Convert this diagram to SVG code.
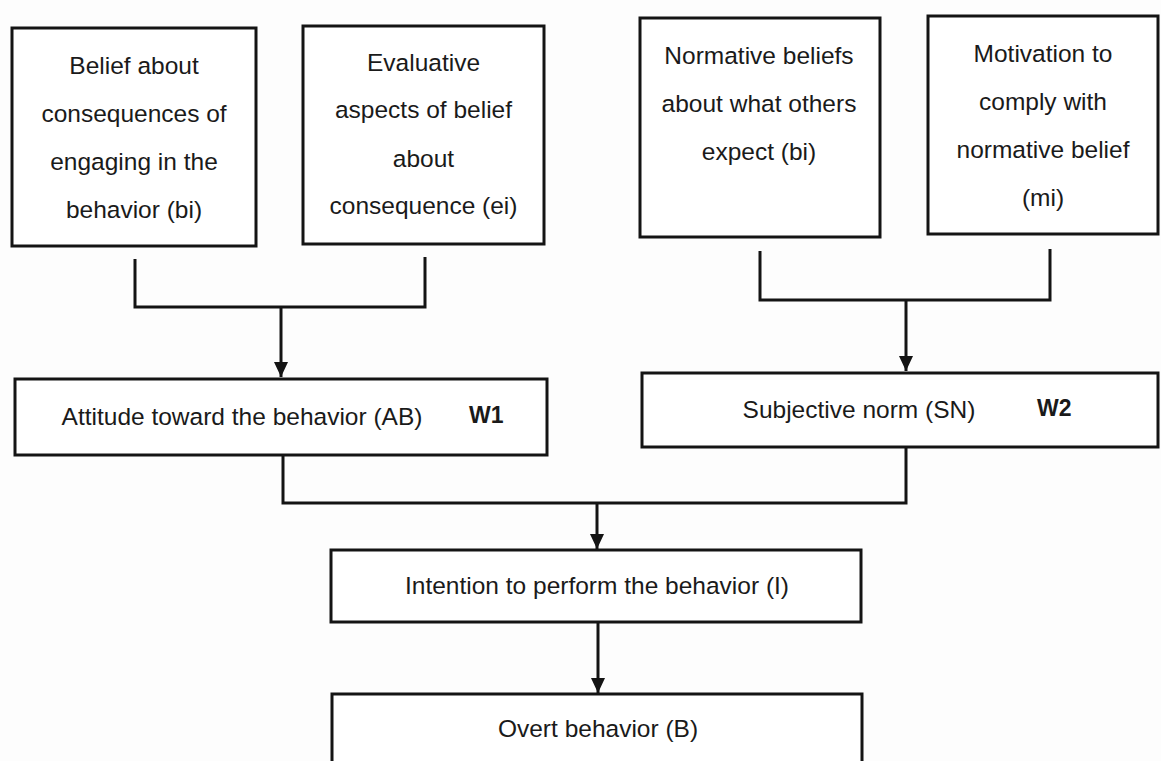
<svg xmlns="http://www.w3.org/2000/svg" width="1161" height="761" viewBox="0 0 1161 761">
  <style>
    .box { fill: #ffffff; stroke: #141414; stroke-width: 3; }
    .t { font-family: "Liberation Sans", Arial, sans-serif; font-size: 24.5px; fill: #1a1a1a; text-anchor: middle; }
    .b { font-family: "Liberation Sans", Arial, sans-serif; font-size: 23px; font-weight: bold; fill: #1a1a1a; }
    .c { fill: none; stroke: #141414; stroke-width: 3; stroke-linejoin: miter; }
  </style>
  <defs>
    <marker id="arrow" markerUnits="userSpaceOnUse" markerWidth="16" markerHeight="16" refX="15" refY="7" orient="auto">
      <path d="M0,0 L15,7 L0,14 Z" fill="#141414"/>
    </marker>
  </defs>
  <rect width="1161" height="761" fill="#fdfdfd"/>

  <g id="connectors">
    <path class="c" d="M135,259 V307 H425 V257"/>
    <path class="c" d="M281,307 V377" marker-end="url(#arrow)"/>
    <path class="c" d="M760,251 V300 H1050 V249"/>
    <path class="c" d="M906,300 V371" marker-end="url(#arrow)"/>
    <path class="c" d="M283,456 V503 H906 V447"/>
    <path class="c" d="M597,503 V549" marker-end="url(#arrow)"/>
    <path class="c" d="M598,622 V693" marker-end="url(#arrow)"/>
  </g>

  <g id="belief-consequences">
    <rect class="box" x="12" y="28" width="244" height="218"/>
    <text class="t" x="134" y="74">Belief about</text>
    <text class="t" x="134" y="122">consequences of</text>
    <text class="t" x="134" y="170">engaging in the</text>
    <text class="t" x="134" y="218">behavior (bi)</text>
  </g>

  <g id="evaluative-aspects">
    <rect class="box" x="303" y="26" width="241" height="218"/>
    <text class="t" x="423.5" y="71">Evaluative</text>
    <text class="t" x="423.5" y="118">aspects of belief</text>
    <text class="t" x="423.5" y="167">about</text>
    <text class="t" x="423.5" y="214">consequence (ei)</text>
  </g>

  <g id="normative-beliefs">
    <rect class="box" x="640" y="18" width="240" height="219"/>
    <text class="t" x="759" y="64">Normative beliefs</text>
    <text class="t" x="759" y="112">about what others</text>
    <text class="t" x="759" y="160">expect (bi)</text>
  </g>

  <g id="motivation-comply">
    <rect class="box" x="928" y="16" width="230" height="218"/>
    <text class="t" x="1043" y="62">Motivation to</text>
    <text class="t" x="1043" y="110">comply with</text>
    <text class="t" x="1043" y="158">normative belief</text>
    <text class="t" x="1043" y="206">(mi)</text>
  </g>

  <g id="attitude">
    <rect class="box" x="15" y="379" width="532" height="76"/>
    <text class="t" x="242" y="425">Attitude toward the behavior (AB)</text>
    <text class="b" x="469" y="423">W1</text>
  </g>

  <g id="subjective-norm">
    <rect class="box" x="642" y="373" width="516" height="74"/>
    <text class="t" x="859" y="418">Subjective norm (SN)</text>
    <text class="b" x="1037" y="416">W2</text>
  </g>

  <g id="intention">
    <rect class="box" x="331" y="550" width="530" height="72"/>
    <text class="t" x="597" y="594">Intention to perform the behavior (I)</text>
  </g>

  <g id="overt-behavior">
    <rect class="box" x="332" y="694" width="530" height="80"/>
    <text class="t" x="598" y="737">Overt behavior (B)</text>
  </g>
</svg>
